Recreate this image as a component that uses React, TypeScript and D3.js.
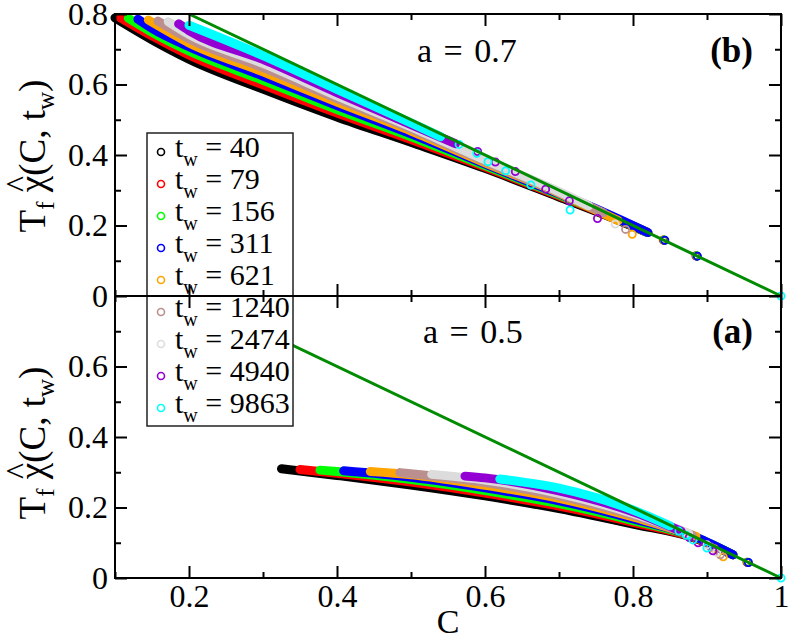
"use client"

import { useEffect, useRef } from "react"
import * as d3 from "d3"

type Pt = [number, number]

const waitingTimes = [40, 79, 156, 311, 621, 1240, 2474, 4940, 9863]
const seriesColors = ["#000000", "#ff0000", "#00ff00", "#0000ff", "#ffa500", "#bc8f8f", "#dcdcdc", "#9400d3", "#00ffff"]

// a = 0.7, panel (b): dense part of each curve (C, T_f chi)
const denseA07: Pt[][] = [
  [[0.1, 0.789], [0.15, 0.727], [0.2, 0.672], [0.3, 0.587], [0.4, 0.508], [0.5, 0.436], [0.6, 0.362], [0.7, 0.281], [0.76, 0.232], [0.82, 0.18]],
  [[0.107, 0.79], [0.15, 0.738], [0.2, 0.684], [0.3, 0.599], [0.4, 0.519], [0.5, 0.444], [0.6, 0.366], [0.7, 0.284], [0.76, 0.234], [0.82, 0.18]],
  [[0.118, 0.788], [0.15, 0.748], [0.2, 0.695], [0.3, 0.612], [0.4, 0.529], [0.5, 0.452], [0.6, 0.37], [0.7, 0.287], [0.76, 0.236], [0.82, 0.18]],
  [[0.131, 0.785], [0.15, 0.759], [0.2, 0.707], [0.3, 0.624], [0.4, 0.54], [0.5, 0.46], [0.6, 0.374], [0.7, 0.29], [0.76, 0.238], [0.82, 0.18]],
  [[0.145, 0.783], [0.2, 0.718], [0.3, 0.636], [0.4, 0.55], [0.5, 0.468], [0.6, 0.378], [0.7, 0.292], [0.78, 0.214]],
  [[0.158, 0.78], [0.2, 0.73], [0.3, 0.648], [0.4, 0.56], [0.5, 0.474], [0.6, 0.382], [0.7, 0.294], [0.76, 0.236]],
  [[0.172, 0.778], [0.2, 0.742], [0.3, 0.66], [0.4, 0.568], [0.5, 0.48], [0.6, 0.386], [0.7, 0.296], [0.74, 0.256]],
  [[0.186, 0.772], [0.2, 0.753], [0.3, 0.671], [0.4, 0.577], [0.5, 0.486], [0.56, 0.432]],
  [[0.2, 0.768], [0.3, 0.682], [0.4, 0.586], [0.5, 0.491], [0.54, 0.452]],
]

// a = 0.7: sparse early-time points, drawn as open circles
const openA07: Pt[][] = [
  [[0.842, 0.158], [0.886, 0.113]],
  [[0.841, 0.159], [0.885, 0.114]],
  [[0.842, 0.159], [0.886, 0.114]],
  [[0.843, 0.158], [0.887, 0.113]],
  [[0.799, 0.175]],
  [[0.79, 0.189]],
  [[0.776, 0.204]],
  [[0.59, 0.41], [0.614, 0.38], [0.641, 0.353], [0.682, 0.303], [0.714, 0.27], [0.752, 0.22]],
  [[0.565, 0.43], [0.589, 0.405], [0.604, 0.381], [0.628, 0.355], [0.662, 0.315], [0.715, 0.244], [1, 0]],
]

// a = 0.5, panel (a)
const denseA05: Pt[][] = [
  [[0.325, 0.31], [0.4, 0.291], [0.5, 0.264], [0.6, 0.233], [0.7, 0.197], [0.8, 0.153], [0.885, 0.112], [0.935, 0.066]],
  [[0.35, 0.308], [0.4, 0.297], [0.5, 0.272], [0.6, 0.241], [0.7, 0.204], [0.8, 0.158], [0.885, 0.113], [0.935, 0.066]],
  [[0.377, 0.306], [0.4, 0.302], [0.5, 0.279], [0.6, 0.248], [0.7, 0.211], [0.8, 0.163], [0.885, 0.115], [0.935, 0.066]],
  [[0.409, 0.304], [0.5, 0.286], [0.6, 0.256], [0.7, 0.219], [0.8, 0.168], [0.885, 0.116], [0.935, 0.066]],
  [[0.445, 0.302], [0.5, 0.293], [0.6, 0.263], [0.7, 0.226], [0.8, 0.173], [0.885, 0.118]],
  [[0.485, 0.299], [0.5, 0.296], [0.6, 0.271], [0.7, 0.233], [0.8, 0.178], [0.88, 0.122]],
  [[0.528, 0.294], [0.6, 0.278], [0.7, 0.24], [0.8, 0.183], [0.875, 0.127]],
  [[0.573, 0.289], [0.6, 0.284], [0.7, 0.247], [0.8, 0.188], [0.865, 0.133]],
  [[0.62, 0.281], [0.7, 0.255], [0.8, 0.193], [0.85, 0.148]],
]

const openA05: Pt[][] = [
  [[0.955, 0.044]],
  [[0.954, 0.045]],
  [[0.955, 0.045]],
  [[0.956, 0.044]],
  [[0.91, 0.083], [0.922, 0.06]],
  [[0.905, 0.088], [0.918, 0.066]],
  [[0.9, 0.094], [0.913, 0.072]],
  [[0.876, 0.115], [0.888, 0.1], [0.908, 0.077]],
  [[0.862, 0.133], [0.872, 0.121], [0.881, 0.108], [0.9, 0.085], [1, 0]],
]

// T_f chi = 1 - C
const fdtLine: Pt[] = [[0.2, 0.8], [1, 0]]

const xMajorTicks = [0.2, 0.4, 0.6, 0.8, 1]
const xMinorTicks = [0.1, 0.3, 0.5, 0.7, 0.9]
const yTicksTop = [0, 0.2, 0.4, 0.6, 0.8]
const yTicksBottom = [0, 0.2, 0.4, 0.6]
const yMinorTicks = [0.1, 0.3, 0.5, 0.7]

const FONT = "Liberation Serif"

export default function App() {
  const svgRef = useRef<SVGSVGElement>(null)

  useEffect(() => {
    if (!svgRef.current) return
    const svg = d3.select(svgRef.current)
    svg.selectAll("*").remove()

    const width = 789
    const height = 643
    const left = 115
    const right = 781
    const top = 14
    const mid = 296
    const bottom = 578

    const x = d3.scaleLinear().domain([0.1, 1]).range([left, right])
    const yTop = d3.scaleLinear().domain([0, 0.8]).range([mid, top])
    const yBot = d3.scaleLinear().domain([0, 0.8]).range([bottom, mid])

    svg.append("rect").attr("width", width).attr("height", height).attr("fill", "white")

    const drawData = (y: d3.ScaleLinear<number, number>, dense: Pt[][], open: Pt[][]) => {
      const g = svg.append("g")
      const line = d3
        .line<Pt>()
        .x((d) => x(d[0]))
        .y((d) => y(d[1]))
        .curve(d3.curveMonotoneX)

      dense.forEach((pts, i) => {
        g.append("path")
          .attr("d", line(pts))
          .attr("fill", "none")
          .attr("stroke", seriesColors[i])
          .attr("stroke-width", 9)
          .attr("stroke-linecap", "round")
          .attr("stroke-linejoin", "round")
      })

      open.forEach((pts, i) => {
        g.selectAll(null)
          .data(pts)
          .join("circle")
          .attr("cx", (d) => x(d[0]))
          .attr("cy", (d) => y(d[1]))
          .attr("r", 3.6)
          .attr("fill", "none")
          .attr("stroke", seriesColors[i])
          .attr("stroke-width", 1.8)
      })

      g.append("path")
        .attr("d", d3.line<Pt>().x((d) => x(d[0])).y((d) => y(d[1]))(fdtLine))
        .attr("fill", "none")
        .attr("stroke", "#008b00")
        .attr("stroke-width", 3)
    }

    drawData(yBot, denseA05, openA05)
    drawData(yTop, denseA07, openA07)

    // Legend
    const legend = svg.append("g")
    legend
      .append("rect")
      .attr("x", 147)
      .attr("y", 133)
      .attr("width", 146)
      .attr("height", 293)
      .attr("fill", "white")
      .attr("stroke", "#222")
      .attr("stroke-width", 1.5)

    waitingTimes.forEach((tw, i) => {
      const base = 157 + 32 * i
      legend
        .append("circle")
        .attr("cx", 161)
        .attr("cy", base - 5)
        .attr("r", 3.5)
        .attr("fill", "none")
        .attr("stroke", seriesColors[i])
        .attr("stroke-width", 1.6)
      const t = legend
        .append("text")
        .attr("x", 175)
        .attr("y", base)
        .attr("font-family", FONT)
        .attr("font-size", 30)
        .style("white-space", "pre")
      t.append("tspan").text("t")
      t.append("tspan").attr("dy", 9).attr("font-size", 20).text("w")
      t.append("tspan").attr("dy", -9).text(` = ${tw}`)
    })

    // Axes
    const styleAxis = (g: any, labels: boolean) => {
      g.select(".domain").remove()
      g.selectAll(".tick line").attr("stroke", "#000").attr("stroke-width", 2)
      g.attr("font-family", FONT).attr("font-size", 32)
      g.selectAll(".tick text").attr("fill", "#000")
      if (!labels) g.selectAll(".tick text").remove()
    }
    const fmt = (d: d3.NumberValue) => String(+d)

    const panels = [
      { y: yTop, y0: top, y1: mid, yTicks: yTicksTop, xLabels: false },
      { y: yBot, y0: mid, y1: bottom, yTicks: yTicksBottom, xLabels: true },
    ]

    panels.forEach((p) => {
      // major + minor ticks on all four sides, pointing inward
      const sides: [any, string, boolean][] = [
        [d3.axisLeft(p.y).tickValues(p.yTicks).tickFormat(fmt).tickSize(-12).tickPadding(7), `translate(${left},0)`, true],
        [d3.axisLeft(p.y).tickValues(yMinorTicks).tickFormat(() => "").tickSize(-6), `translate(${left},0)`, false],
        [d3.axisRight(p.y).tickValues(p.yTicks).tickSize(-12), `translate(${right},0)`, false],
        [d3.axisRight(p.y).tickValues(yMinorTicks).tickSize(-6), `translate(${right},0)`, false],
        [d3.axisTop(x).tickValues(xMajorTicks).tickSize(-12), `translate(0,${p.y0})`, false],
        [d3.axisTop(x).tickValues(xMinorTicks).tickSize(-6), `translate(0,${p.y0})`, false],
        [d3.axisBottom(x).tickValues(xMajorTicks).tickFormat(fmt).tickSize(-12).tickPadding(6), `translate(0,${p.y1})`, p.xLabels],
        [d3.axisBottom(x).tickValues(xMinorTicks).tickSize(-6), `translate(0,${p.y1})`, false],
      ]
      sides.forEach(([axis, tr, labels]) => {
        const g = svg.append("g").attr("transform", tr).call(axis)
        styleAxis(g, labels)
      })

      svg
        .append("rect")
        .attr("x", left)
        .attr("y", p.y0)
        .attr("width", right - left)
        .attr("height", p.y1 - p.y0)
        .attr("fill", "none")
        .attr("stroke", "#000")
        .attr("stroke-width", 2)
    })

    // Y axis labels: T_f chi-hat(C, t_w)
    const yLabel = (cy: number) => {
      const g = svg.append("g").attr("transform", `translate(45,${cy}) rotate(-90)`)
      const t = g
        .append("text")
        .attr("text-anchor", "middle")
        .attr("font-family", FONT)
        .attr("font-size", 37)
        .style("white-space", "pre")
      t.append("tspan").text("T")
      t.append("tspan").attr("dy", 9).attr("font-size", 25).text("f")
      t.append("tspan").attr("dy", -9).text(" \u03c7(C, t")
      t.append("tspan").attr("dy", 9).attr("font-size", 25).text("w")
      t.append("tspan").attr("dy", -9).text(")")
      const node = t.node() as SVGTextElement
      try {
        const pos = node.getStartPositionOfChar(3)
        const ext = node.getExtentOfChar(3)
        g.append("text")
          .attr("x", pos.x + ext.width / 2)
          .attr("y", -16)
          .attr("text-anchor", "middle")
          .attr("font-family", FONT)
          .attr("font-size", 34)
          .text("^")
      } catch (e) {
        // measuring failed; no hat
      }
    }
    yLabel(156)
    yLabel(443)

    // Annotations
    const note = (tx: number, ty: number, s: string, anchor: string, bold = false) =>
      svg
        .append("text")
        .attr("x", tx)
        .attr("y", ty)
        .attr("text-anchor", anchor)
        .attr("font-family", FONT)
        .attr("font-size", bold ? 35 : 34)
        .attr("word-spacing", bold ? 0 : 3)
        .attr("font-weight", bold ? "bold" : "normal")
        .style("white-space", "pre")
        .text(s)

    note(417, 62, "a = 0.7", "start")
    note(753, 62, "(b)", "end", true)
    note(423, 343, "a = 0.5", "start")
    note(753, 343, "(a)", "end", true)

    svg
      .append("text")
      .attr("x", (left + right) / 2)
      .attr("y", 633)
      .attr("text-anchor", "middle")
      .attr("font-family", FONT)
      .attr("font-size", 34)
      .text("C")
  }, [])

  return <svg ref={svgRef} width={789} height={643} style={{ position: "absolute", left: 0, top: 0 }}></svg>
}
